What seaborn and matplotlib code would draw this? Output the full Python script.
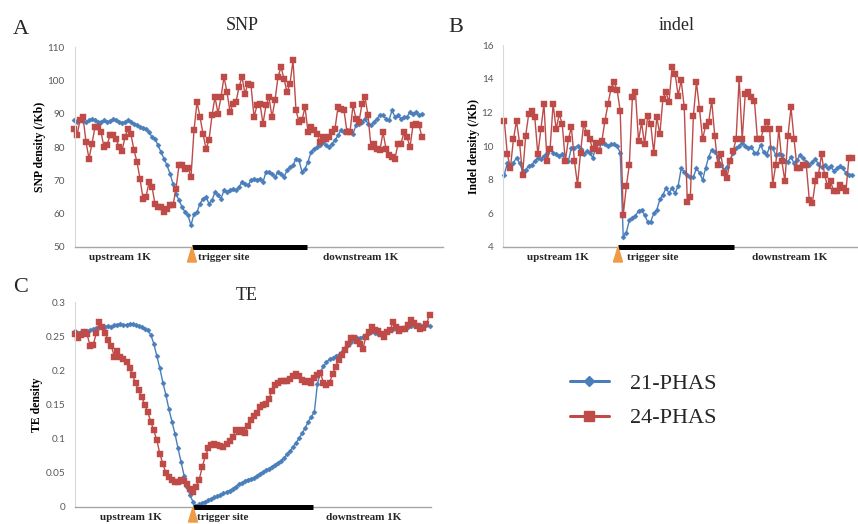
import numpy as np
import pandas as pd
import matplotlib
matplotlib.use("Agg")
import matplotlib.pyplot as plt
from matplotlib.lines import Line2D
import seaborn as sns

# ---------------- data ----------------
series_names = ["21-PHAS", "24-PHAS"]
region_labels = ["upstream 1K", "trigger site", "downstream 1K"]
panel_titles = ["SNP", "indel", "TE"]
panel_letters = ["A", "B", "C"]
y_labels = ["SNP density (/Kb)", "Indel density (/Kb)", "TE density"]

snp_21 = [88, 87.5, 88, 87.8, 87.5, 88, 88.5, 88, 87.5, 87.5, 88, 87.5, 87.8, 88.3, 88, 87.5, 87.3, 87.5,
          88, 87.5, 87, 86.5, 86, 85.8, 85.3, 84.5, 83,
          82.5, 80.5, 78.5, 76.5, 74.5, 72, 69,
          66, 64, 62, 60.5, 59.5, 56.5,
          60, 60.5, 63, 64.5, 65, 63, 64, 66.5, 65.5, 64.5,
          67, 66.5, 67, 67.5, 67, 68, 69.5, 69, 68.5, 70,
          70.5, 70, 70.5, 69.5, 72.5, 72.5, 72, 71, 72.5, 72,
          71, 73, 74, 74.5, 76.5, 76, 72.5, 73.5, 75.5, 78.5,
          79.5, 80, 80.5, 81.5, 80.5, 80, 81, 82, 83.5, 85,
          84.5, 85, 84.5, 84, 86.5, 87, 87.5, 88.5, 87, 86.5,
          87.5, 88.5, 89.5, 89.5, 88.5, 88, 91, 89, 89.5, 88.5,
          89, 89, 90.5, 90, 90.5, 89.5, 90]
snp_24 = [85.5, 83.5, 88, 89, 81.5, 76.5, 81, 86, 86, 84.5,
          80, 80.5, 83.5, 83.5, 82.5, 80, 78.8, 83, 85.5, 83.8,
          79, 75.5, 70.5, 64.5, 65, 69.5, 68, 63, 62, 62,
          60.5, 61.5, 62.5, 62.5, 67.5, 74.5, 74.5, 73.5, 73.8, 71,
          85, 93.5, 89, 84, 79.5, 82, 89.5, 95, 90, 95,
          101, 96.5, 90.5, 93, 93.5, 98, 101, 96, 99, 98.5,
          89, 92.5, 93, 87, 92.5, 95, 89, 94, 101, 104,
          100.5, 96.5, 99, 106, 91, 87.5, 88, 92, 84.5, 86,
          85, 84, 81.5, 83, 82.5, 83, 84.5, 85.5, 92, 91.5,
          91, 84.5, 84.5, 92.5, 88.5, 87.5, 93, 95, 89.5, 80,
          81, 79.5, 79, 84.5, 79.5, 77.5, 77, 76.5, 81, 81,
          84.5, 83, 80, 86.5, 87, 86.5, 83]

indel_21 = [8.3, 9.0, 8.8, 9.0, 9.3, 9.0, 8.5, 8.6, 8.8, 8.9, 9.1, 9.3, 9.2, 9.4, 9.6, 9.8, 9.6, 9.5, 9.4,
            9.5, 9.1, 9.1, 9.9, 9.9, 10.0, 9.8, 9.5, 9.7, 9.6, 9.3, 9.9, 10.2, 10.2, 10.1, 10.0, 10.1,
            10.1, 10.0, 9.6,
            4.6, 4.85, 5.6, 5.74, 5.84, 6.16, 6.2, 5.9, 5.5, 5.5, 6.0, 6.2, 6.83, 7.1, 7.49, 7.23, 7.49,
            7.2, 7.63, 8.67, 8.47, 8.27, 8.13, 8.17, 8.67, 8.41, 7.98, 8.67, 9.36, 9.76, 9.66, 9.36, 8.87,
            8.57, 8.77, 9.17,
            9.56, 9.86, 10.0, 10.16, 10.0, 9.86, 9.96, 9.6, 9.6, 10.06, 9.66, 9.46, 9.96, 9.86, 9.46,
            9.52, 9.46, 9.13, 9.07, 9.36, 8.97, 9.17, 9.46, 9.27, 9.07, 8.87, 9.07, 9.2, 8.93, 8.73,
            8.87, 8.67, 8.8, 8.53, 8.67, 8.8, 8.67, 8.41, 8.27, 8.3]
indel_24 = [11.5, 9.5, 8.7, 10.4, 11.5, 10.2, 8.3, 10.6, 11.9, 12.1, 11.7, 9.5, 11.0, 12.5, 9.1, 9.8,
            12.5, 11.0, 11.9, 11.3, 9.1, 10.4, 11.1, 9.1, 7.7, 9.6, 11.3, 10.8, 10.4, 9.8, 10.2, 9.7,
            10.3, 11.5, 12.5, 13.4, 13.8, 13.3, 12.1, 5.9,
            7.6, 8.9, 12.9, 13.2, 10.3, 11.4, 10.1, 11.8, 11.3, 9.6, 11.7, 10.7, 12.8, 13.2, 12.6, 14.7,
            14.3, 13.0, 13.9, 12.3, 6.7, 7.0, 11.8, 13.8, 12.2, 10.4, 11.2, 11.4, 12.7, 10.6, 8.9, 9.5,
            8.4, 8.1, 9.1,
            9.7, 10.4, 14.0, 10.4, 13.1, 13.2, 12.9, 12.7, 10.4, 10.4, 11.0, 11.4, 11.0, 7.7, 8.9, 11.0,
            9.1, 7.9, 10.6, 12.3, 10.4, 8.7, 8.7, 8.9, 8.9, 6.8, 6.6, 7.9, 8.3, 9.5, 8.3, 7.6, 7.9, 7.3,
            7.3, 7.7, 7.5, 7.3, 9.3, 9.3]

te_21 = [0.257, 0.255, 0.256, 0.257, 0.258, 0.259, 0.260, 0.262, 0.263, 0.264,
         0.264, 0.265, 0.264, 0.266, 0.267, 0.268, 0.266, 0.267, 0.268, 0.268,
         0.266, 0.265, 0.263, 0.261, 0.259, 0.252, 0.239, 0.221, 0.203, 0.182,
         0.164, 0.143, 0.125, 0.107, 0.086, 0.066, 0.046, 0.029, 0.017, 0.007,
         0.002, 0.004, 0.006, 0.008, 0.010, 0.012, 0.014, 0.016, 0.018, 0.020,
         0.022, 0.024, 0.027, 0.030, 0.033, 0.035, 0.038, 0.040, 0.041, 0.043,
         0.046, 0.049, 0.051, 0.054, 0.056, 0.059, 0.062, 0.065, 0.068, 0.072,
         0.077, 0.082, 0.088, 0.094, 0.101, 0.108, 0.116, 0.125, 0.132, 0.139,
         0.180, 0.198, 0.206, 0.212, 0.216, 0.218, 0.221, 0.223, 0.227, 0.232,
         0.237, 0.242, 0.246, 0.248, 0.248, 0.249, 0.252, 0.254, 0.257, 0.254,
         0.253, 0.254, 0.255, 0.257, 0.259, 0.261, 0.261, 0.262, 0.261, 0.262,
         0.264, 0.265, 0.266, 0.265, 0.266, 0.265, 0.266, 0.265]
te_24 = [0.253, 0.247, 0.252, 0.256, 0.253, 0.235, 0.237, 0.254, 0.271, 0.264,
         0.254, 0.244, 0.235, 0.220, 0.229, 0.220, 0.216, 0.212, 0.204, 0.193,
         0.181, 0.171, 0.161, 0.150, 0.139, 0.125, 0.112, 0.098, 0.078, 0.063,
         0.050, 0.044, 0.039, 0.037, 0.036, 0.039, 0.038, 0.033, 0.027, 0.022,
         0.030, 0.040, 0.059, 0.074, 0.086, 0.091, 0.092, 0.091, 0.090, 0.088,
         0.092, 0.097, 0.102, 0.112, 0.110, 0.113, 0.108, 0.118, 0.127, 0.133,
         0.138, 0.146, 0.149, 0.151, 0.158, 0.170, 0.178, 0.182, 0.184, 0.184,
         0.185, 0.188, 0.191, 0.194, 0.192, 0.186, 0.183, 0.184, 0.182, 0.189,
         0.193, 0.196, 0.182, 0.179, 0.182, 0.194, 0.205, 0.215, 0.222, 0.230,
         0.239, 0.247, 0.248, 0.243, 0.239, 0.231, 0.249, 0.256, 0.264, 0.259,
         0.257, 0.253, 0.249, 0.256, 0.259, 0.271, 0.264, 0.258, 0.261, 0.260,
         0.266, 0.274, 0.270, 0.265, 0.261, 0.262, 0.268, 0.281]

snp_ticks = [50, 60, 70, 80, 90, 100, 110]
indel_ticks = [4, 6, 8, 10, 12, 14, 16]
te_ticks = [0, 0.05, 0.1, 0.15, 0.2, 0.25, 0.3]
te_ticklabels = ["0", "0.05", "0.1", "0.15", "0.2", "0.25", "0.3"]

# ---------------- style ----------------
sns.set_theme(style="white")
plt.rcParams["font.family"] = ["Liberation Serif", "DejaVu Serif"]

BLUE = "#4A7EBB"
RED = "#BE4B48"
ORANGE = "#EF9A45"
TICK_GREY = "#595959"
SERIF = ["Liberation Serif", "DejaVu Serif"]
SANS = ["Lato", "DejaVu Sans"]

W, H = 858, 524
fig = plt.figure(figsize=(W / 100, H / 100), dpi=100)
fig.patch.set_facecolor("white")


def fx(px):
    return px / W


def fy(py):
    return 1 - py / H


# layout per panel (pixel geometry of the reference)
layout = [
    dict(rect=(74.5, 443, 47, 247), px0=74.0, step=3.0, ylim=(50, 110), ticks=snp_ticks,
         ticklabels=[str(t) for t in snp_ticks], bar=(192, 307),
         lab_px=(120, 198, 361), lab_py=257, ylab_x=-0.078,
         title_xy=(242, 26), letter_xy=(21, 29), s21=snp_21, s24=snp_24),
    dict(rect=(503, 858, 45, 247), px0=504.3, step=3.05, ylim=(4, 16), ticks=indel_ticks,
         ticklabels=[str(t) for t in indel_ticks], bar=(618, 734),
         lab_px=(558, 627, 790), lab_py=258, ylab_x=-0.065,
         title_xy=(677, 26), letter_xy=(456, 28), s21=indel_21, s24=indel_24),
    dict(rect=(75, 431, 302, 507), px0=75.0, step=3.03, ylim=(0, 0.3), ticks=te_ticks,
         ticklabels=te_ticklabels, bar=(193, 313),
         lab_px=(131, 197, 364), lab_py=518, ylab_x=-0.09,
         title_xy=(247, 295), letter_xy=(21, 287), s21=te_21, s24=te_24),
]

for k, L in enumerate(layout):
    left, right, top, bottom = L["rect"]
    ax = fig.add_axes([fx(left), fy(bottom), (right - left) / W, (bottom - top) / H])
    ax.set_facecolor("none")
    px0, step = L["px0"], L["step"]
    to_x = lambda px: (px - px0) / step

    for vals, name, color, mk, ms in [(L["s21"], series_names[0], BLUE, "D", 2.6),
                                       (L["s24"], series_names[1], RED, "s", 3.8)]:
        df = pd.DataFrame({"pos": np.arange(len(vals)), "density": vals})
        sns.lineplot(data=df, x="pos", y="density", ax=ax, color=color, marker=mk,
                     markersize=ms, markeredgewidth=0.3, markeredgecolor=color,
                     linewidth=1.0, clip_on=False, legend=False)

    ax.set_xlim(to_x(left), to_x(right))
    ax.set_ylim(*L["ylim"])
    ax.set_yticks(L["ticks"])
    ax.set_yticklabels(L["ticklabels"], fontfamily=SANS, fontsize=7.2, color=TICK_GREY)
    ax.set_xticks([])
    ax.set_xlabel("")
    ax.tick_params(axis="y", length=0, pad=7)
    for s in ["top", "right"]:
        ax.spines[s].set_visible(False)
    ax.spines["left"].set_color("#D9D9D9")
    ax.spines["left"].set_linewidth(0.8)
    ax.spines["bottom"].set_color("#A6A6A6")
    ax.spines["bottom"].set_linewidth(1.0)
    ax.grid(False)

    ax.set_ylabel(y_labels[k], fontfamily=SERIF, fontweight="bold", fontsize=8.5, color="black")
    ax.yaxis.set_label_coords(L["ylab_x"], 0.5)

    # trigger-site bar and marker
    trans = ax.get_xaxis_transform()
    b0, b1 = to_x(L["bar"][0]), to_x(L["bar"][1])
    ax.plot([b0, b1], [0, 0], transform=trans, color="black", lw=3.6,
            solid_capstyle="butt", clip_on=False, zorder=5)
    hgt = 15 / (bottom - top)
    half = 4.5 / step
    ax.fill([b0 - half, b0, b0 + half], [-hgt, 0, -hgt], transform=trans,
            color=ORANGE, clip_on=False, zorder=6)

    # region labels
    ly = (bottom - L["lab_py"]) / (bottom - top)
    ax.text(to_x(L["lab_px"][0]), ly, region_labels[0], transform=trans, ha="center", va="center",
            fontfamily=SERIF, fontweight="bold", fontsize=8)
    ax.text(to_x(L["lab_px"][1]), ly, region_labels[1], transform=trans, ha="left", va="center",
            fontfamily=SERIF, fontweight="bold", fontsize=8)
    ax.text(to_x(L["lab_px"][2]), ly, region_labels[2], transform=trans, ha="center", va="center",
            fontfamily=SERIF, fontweight="bold", fontsize=8)

    tx, ty = L["title_xy"]
    fig.text(fx(tx), fy(ty), panel_titles[k], ha="center", va="center", fontfamily=SERIF, fontsize=13)
    lx, lyy = L["letter_xy"]
    fig.text(fx(lx), fy(lyy), panel_letters[k], ha="center", va="center", fontfamily=SERIF, fontsize=16)

handles = [Line2D([], [], color=BLUE, lw=2.2, marker="D", markersize=5.5),
           Line2D([], [], color=RED, lw=2.2, marker="s", markersize=7)]
fig.legend(handles, series_names, loc="upper left", bbox_to_anchor=(fx(570), fy(373)),
           frameon=False, prop={"family": SERIF, "size": 16}, handlelength=1.75,
           handletextpad=0.95, labelspacing=0.64, borderaxespad=0, borderpad=0)

fig.savefig("out.png", dpi=100, facecolor="white")
